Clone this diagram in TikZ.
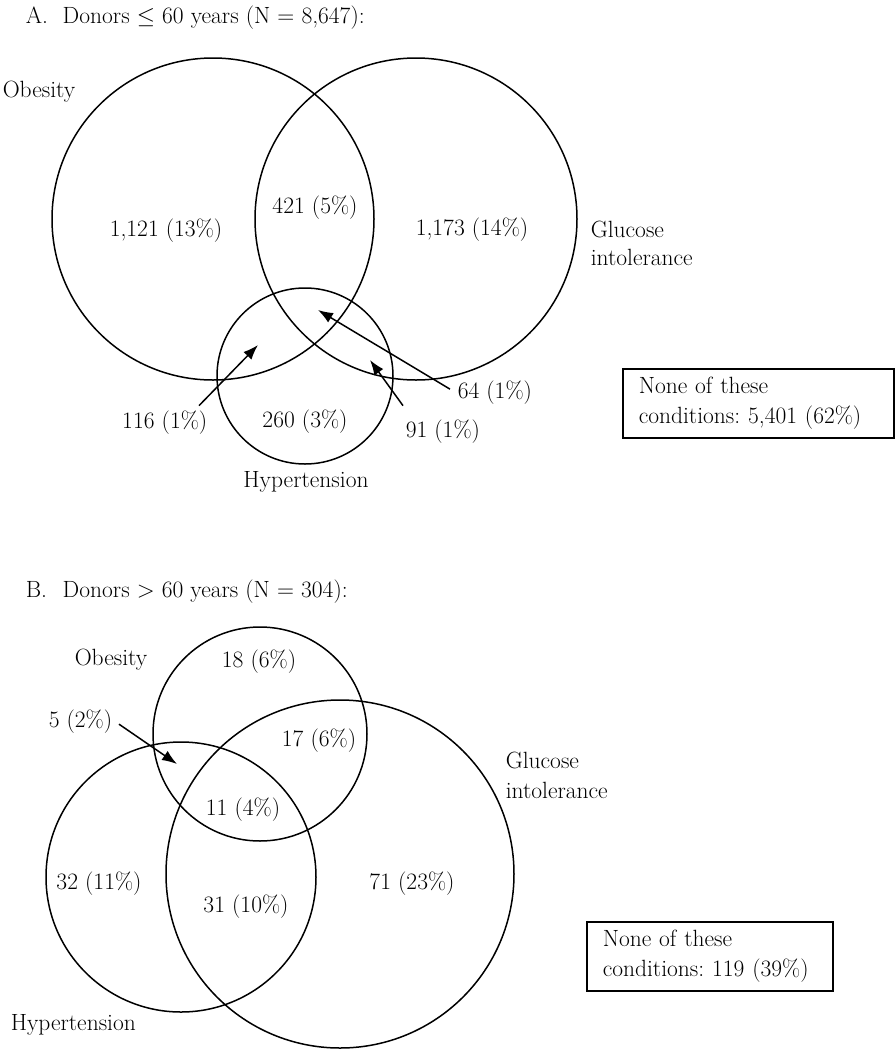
\RequirePackage{fix-cm}
\documentclass[tikz,border=0pt]{standalone}
\usepackage{fontspec}
\usepackage{tikz}
\usetikzlibrary{arrows.meta}
\frenchspacing

\begin{document}
\begin{tikzpicture}[x=1pt,y=-1pt,>={Latex[length=15pt,width=11pt]},line width=1.5pt,
    font=\fontsize{23.5}{30}\selectfont,
    lbl/.style={inner sep=2pt},
    nonebox/.style={draw,anchor=north west,align=left,inner xsep=16pt,inner ysep=0pt,minimum height=69pt}]
\useasboundingbox (0,0) rectangle (895,1050);
% Reference grid (temporary)
%\draw[help lines,step=50] (0,0) grid (895,1050);

% A: donors up to 60
\node[lbl,anchor=base west] (titleA) at (23,23) {\makebox[37pt][l]{A.}Donors $\leq$ 60 years (N = 8,647):};
\draw (213,219) circle (161);
\draw (416,219) circle (161);
\draw (305,376) circle (88);
\node[lbl,anchor=base west] (obesA) at (0,97) {Obesity};
\node[lbl,anchor=base west] (glucA) at (588,237) {Glucose};
\node[lbl,anchor=base west] (glucAb) at (588,265) {intolerance};
\node[lbl,anchor=base] (hyperA) at (306,487) {Hypertension};
\node[lbl,anchor=base] (cntA1) at (166,236) {1,121 (13\%)};
\node[lbl,anchor=base] (cntA2) at (315,213) {421 (5\%)};
\node[lbl,anchor=base] (cntA3) at (472,235) {1,173 (14\%)};
\node[lbl,anchor=base] (cntA4) at (305,427) {260 (3\%)};
\node[lbl,anchor=base east] (cntA5) at (210,428) {116 (1\%)};
\node[lbl,anchor=base west] (cntA6) at (403,437) {91 (1\%)};
\node[lbl,anchor=base west] (cntA7) at (455,398) {64 (1\%)};
\coordinate (tipA5) at (258,345);
\coordinate (tipA6) at (370,360);
\coordinate (tipA7) at (318,310);
\draw[->] ([xshift=-11pt,yshift=2pt]cntA5.north east) -- (tipA5);
\draw[->] ([yshift=11pt]cntA6.north west) -- (tipA6);
\draw[->] ([xshift=-5pt,yshift=3pt]cntA7.west) -- (tipA7);
\node[nonebox,text width=239pt,minimum width=271pt] (noneA) at (622,368)
    {None of these\\conditions: 5,401 (62\%)};

% B: donors over 60
\node[lbl,anchor=base west] (titleB) at (23,597) {\makebox[37pt][l]{B.}Donors > 60 years (N = 304):};
\draw (260,734) circle (107);
\draw (340,874) circle (174);
\draw (181,877) circle (135);
\node[lbl,anchor=base west] (obesB) at (72,665) {Obesity};
\node[lbl,anchor=base west] (glucB) at (503,768) {Glucose};
\node[lbl,anchor=base west] (glucBb) at (503,798) {intolerance};
\node[lbl,anchor=base west] (hyperB) at (8,1030) {Hypertension};
\node[lbl,anchor=base] (cntB1) at (259,667) {18 (6\%)};
\node[lbl,anchor=base west] (cntB2) at (46,727) {5 (2\%)};
\node[lbl,anchor=base] (cntB3) at (319,746) {17 (6\%)};
\node[lbl,anchor=base] (cntB4) at (243,815) {11 (4\%)};
\node[lbl,anchor=base] (cntB5) at (99,889) {32 (11\%)};
\node[lbl,anchor=base] (cntB6) at (246,912) {31 (10\%)};
\node[lbl,anchor=base] (cntB7) at (412,889) {71 (23\%)};
\coordinate (tipB2) at (177,764);
\draw[->] ([xshift=4pt,yshift=-3pt]cntB2.east) -- (tipB2);
\node[nonebox,text width=214pt,minimum width=246pt] (noneB) at (586,921)
    {None of these\\conditions: 119 (39\%)};
\end{tikzpicture}
\end{document}
